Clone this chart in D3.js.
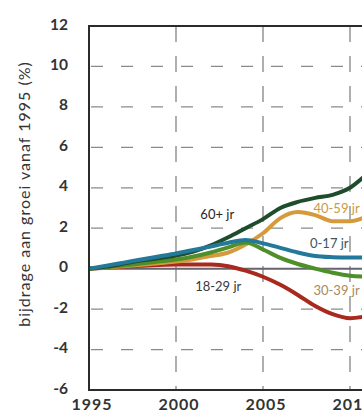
<!DOCTYPE html>
<html><head><meta charset="utf-8">
<script src="https://cdn.jsdelivr.net/npm/d3@7"></script>
<style>
html,body{margin:0;padding:0;background:#fff;}
svg{display:block;font-family:Lato,"Open Sans",sans-serif;}
</style></head>
<body><svg id="c" width="362" height="413"></svg>
<script>
const years = [1995,1996,1997,1998,1999,2000,2001,2002,2003,2004,2005,2006,2007,2008,2009,2010,2011];
const age60plus = [0,0.1,0.25,0.4,0.52,0.65,0.85,1.15,1.55,2.0,2.45,3.0,3.3,3.5,3.65,4.0,4.7];
const age0to17 = [0,0.15,0.3,0.45,0.6,0.75,0.92,1.1,1.28,1.42,1.25,1.03,0.8,0.63,0.57,0.55,0.56];
const age30to39 = [0,0.08,0.16,0.25,0.35,0.45,0.6,0.8,1.05,1.3,0.95,0.53,0.23,0.0,-0.2,-0.35,-0.4];
const age40to59 = [0,0.06,0.12,0.19,0.27,0.35,0.47,0.62,0.8,1.2,1.75,2.5,2.8,2.65,2.35,2.35,2.6];
const age18to29 = [0,0.05,0.1,0.14,0.18,0.2,0.21,0.2,0.12,-0.1,-0.4,-0.8,-1.3,-1.85,-2.25,-2.45,-2.35];
const yTicks = [-6,-4,-2,0,2,4,6,8,10,12];
const xTicks = [1995,2000,2005,2010];
const seriesNames = ["18-29 jr","40-59 jr","30-39 jr","60+ jr","0-17 jr"];
const seriesColors = ["#a82a1e","#d59a3c","#4f8f2a","#1f4c2b","#23799a"];
const seriesValues = [age18to29,age40to59,age30to39,age60plus,age0to17];
const labelTexts = ["60+ jr","40-59 jr","0-17 jr","18-29 jr","30-39 jr"];
const labelYears = [2001.4,2007.9,2007.7,2001.1,2007.9];
const labelVals = [2.45,2.75,1.02,-1.1,-1.3];
const labelColors = ["#262626","#c99a48","#3a5563","#383838","#a88a5c"];

const svg = d3.select("#c");
const x = d3.scaleLinear().domain([1995,2010]).range([89,350]);
const y = d3.scaleLinear().domain([-6,12]).range([390,26]);
const right = 362;

svg.append("defs").append("clipPath").attr("id","pc")
  .append("rect").attr("x",89).attr("y",26).attr("width",right-89).attr("height",364);

// horizontal dashed gridlines
svg.append("g").selectAll("line").data(yTicks.filter(v=>v!==0&&v!==12&&v!==-6)).join("line")
  .attr("x1",x(1995)).attr("x2",right).attr("y1",d=>y(d)).attr("y2",d=>y(d))
  .attr("stroke","#8a8a8a").attr("stroke-width",1.2).attr("stroke-dasharray","12,18").attr("stroke-dashoffset",-2);
// vertical dashed gridlines
svg.append("g").selectAll("line").data(xTicks.filter(v=>v!==1995)).join("line")
  .attr("x1",d=>x(d)).attr("x2",d=>x(d)).attr("y1",y(12)).attr("y2",y(-6))
  .attr("stroke","#7a7a7a").attr("stroke-width",1.2).attr("stroke-dasharray","16,14");
// zero line
svg.append("line").attr("x1",x(1995)).attr("x2",right).attr("y1",y(0)).attr("y2",y(0))
  .attr("stroke","#66656e").attr("stroke-width",2);

// series
const line = d3.line().x((d,i)=>x(years[i])).y(d=>y(d)).curve(d3.curveMonotoneX);
svg.append("g").attr("clip-path","url(#pc)").selectAll("path").data(seriesValues).join("path")
  .attr("d",d=>line(d)).attr("fill","none")
  .attr("stroke",(d,i)=>seriesColors[i]).attr("stroke-width",4)
  .attr("stroke-linejoin","round").attr("stroke-linecap","round");

// frame
svg.append("line").attr("x1",x(1995)).attr("x2",x(1995)).attr("y1",y(12)).attr("y2",y(-6)+1)
  .attr("stroke","#2b2b2b").attr("stroke-width",2);
svg.append("line").attr("x1",x(1995)-1).attr("x2",right).attr("y1",y(12)).attr("y2",y(12))
  .attr("stroke","#2b2b2b").attr("stroke-width",2);
svg.append("line").attr("x1",x(1995)-1).attr("x2",right).attr("y1",y(-6)).attr("y2",y(-6))
  .attr("stroke","#2b2b2b").attr("stroke-width",2);

// y tick labels
svg.append("g").selectAll("text").data(yTicks).join("text")
  .attr("x",68).attr("y",d=>y(d)-2).attr("dy","0.36em").attr("text-anchor","end")
  .attr("font-size",15.5).attr("font-weight",700).attr("fill","#333").text(d=>d);
// x tick labels
svg.append("g").selectAll("text").data(xTicks).join("text")
  .attr("x",d=>x(d)+3).attr("y",410).attr("text-anchor","middle")
  .attr("font-size",16).attr("font-weight",700).attr("letter-spacing",1).attr("fill","#333")
  .text(d=>d);
// y title
svg.append("text").attr("transform","translate(30,194) rotate(-90)").attr("text-anchor","middle")
  .attr("font-size",16).attr("letter-spacing",1).attr("fill","#333")
  .text("bijdrage aan groei vanaf 1995 (%)");

// series labels
svg.append("g").selectAll("text").data(labelTexts).join("text")
  .attr("x",(d,i)=>x(labelYears[i])).attr("y",(d,i)=>y(labelVals[i]))
  .attr("font-size",13).attr("fill",(d,i)=>labelColors[i]).text(d=>d);
</script></body></html>
